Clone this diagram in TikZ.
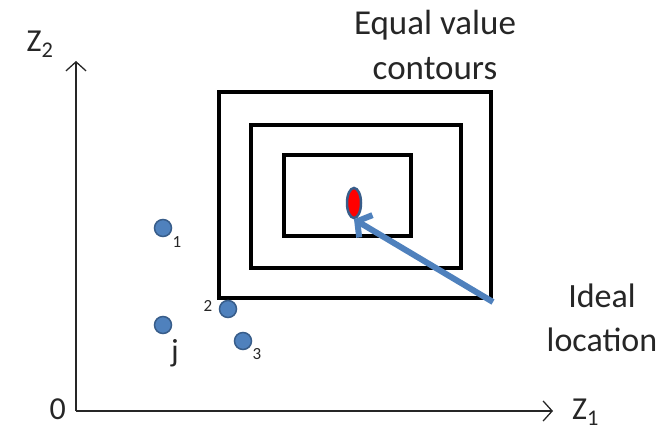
\documentclass[tikz,border=0pt]{standalone}
\usepackage{fontspec}
\setmainfont{Carlito}
\usetikzlibrary{arrows.meta, shapes.geometric}
\definecolor{dotblue}{HTML}{4F81BD}
\definecolor{dotedge}{HTML}{385D8A}
\definecolor{txt}{HTML}{262626}
\tikzset{
  contour/.style={draw, line width=4pt, minimum width=#1},
  site/.style={circle, fill=dotblue, draw=dotedge, line width=1.5pt, minimum size=17pt, inner sep=0pt},
  lbl/.style={text=txt, font=\fontsize{32}{38}\selectfont, inner sep=0pt},
  small/.style={text=txt, font=\fontsize{17}{20}\selectfont, inner sep=0pt}
}
\begin{document}
\begin{tikzpicture}[x=1pt, y=-1pt, >={Straight Barb[length=9pt,width=20pt]}]
\useasboundingbox (0,0) rectangle (657,436);
\coordinate (o) at (76,411);
\coordinate (xend) at (553,411);
\coordinate (yend) at (76,61);
\draw[->, line width=1.3pt, txt] (o) -- (xend);
\draw[->, line width=1.3pt, txt] (o) -- (yend);
\node[lbl, anchor=east] (zero) at (66,409) {0};
\node[lbl, anchor=west] (z1) at (572,412) {Z\textsubscript{1}};
\node[lbl] (z2) at (40,44) {Z\textsubscript{2}};
\node[contour=272pt, minimum height=206pt] (c1) at (355,195) {};
\node[contour=210pt, minimum height=143pt] (c2) at (356,196.5) {};
\node[contour=127pt, minimum height=81pt] (c3) at (347.5,195.5) {};
\node[lbl, align=center, font=\fontsize{35}{45}\selectfont] (eq) at (435,45) {Equal value\\contours};
\node[ellipse, fill=red, draw=dotedge, line width=2.5pt, minimum width=14pt, minimum height=30pt, inner sep=0pt] (ideal) at (354,203) {};
\coordinate (src) at (493,302);
\draw[->, dotblue, line width=6pt, >={Straight Barb[length=10pt,width=26pt]}] (src) -- (ideal.south);
\node[lbl, align=center, font=\fontsize{34}{44}\selectfont] (loc) at (602,318) {Ideal\\location};
\node[site] (d1) at (163,228) {};
\node[site] (d2) at (228,309) {};
\node[site] (dj) at (163,325) {};
\node[site] (d3) at (243,341) {};
\node[small] (n1) at (177,242) {1};
\node[small] (n2) at (208,306) {2};
\node[lbl] (nj) at (175,353) {j};
\node[small] (n3) at (257,354) {3};
\end{tikzpicture}
\end{document}
